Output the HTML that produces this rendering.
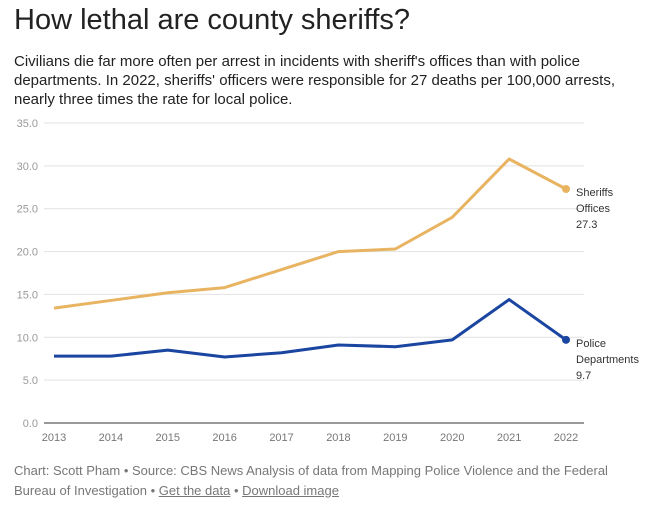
<!DOCTYPE html>
<html><head><meta charset="utf-8"><style>
body{margin:0;background:#fff;font-family:"Liberation Sans",sans-serif;width:669px;height:508px;overflow:hidden}
h1{position:absolute;left:14px;top:4px;margin:0;font-size:29px;font-weight:400;color:#222}
p.sub{position:absolute;left:14px;top:52px;margin:0;width:642px;font-size:15px;line-height:19px;color:#222}
.foot{position:absolute;left:14px;top:461px;width:615px;font-size:13px;line-height:20px;color:#777}
.foot a{color:#777}
</style></head><body>
<h1>How lethal are county sheriffs?</h1>
<p class="sub">Civilians die far more often per arrest in incidents with sheriff's offices than with police departments. In 2022, sheriffs' officers were responsible for 27 deaths per 100,000 arrests, nearly three times the rate for local police.</p>
<svg id="c" width="669" height="508" style="position:absolute;left:0;top:0"></svg>
<div class="foot">Chart: Scott Pham • Source: CBS News Analysis of data from Mapping Police Violence and the Federal Bureau of Investigation • <a href="#">Get the data</a> • <a href="#">Download image</a></div>
<script>
const years=[2013,2014,2015,2016,2017,2018,2019,2020,2021,2022];
const sheriffs=[13.4,14.3,15.2,15.8,17.9,20.0,20.3,24.0,30.8,27.3];
const police=[7.8,7.8,8.5,7.7,8.2,9.1,8.9,9.7,14.4,9.7];
const yTicks=[0,5,10,15,20,25,30,35];
const svg=document.getElementById('c');
const NS='http://www.w3.org/2000/svg';
const x=i=>54+i*(566-54)/(years.length-1);
const y=v=>423-v*(300/35);
function mk(t,a,txt){const e=document.createElementNS(NS,t);for(const k in a)e.setAttribute(k,a[k]);if(txt!=null)e.textContent=txt;svg.appendChild(e);return e;}
yTicks.forEach(t=>{
 const g=mk('line',{x1:44,x2:584,y1:y(t),y2:y(t),stroke:t===0?'#333':'#e2e2e2','stroke-width':1});
 
 
 const l=mk('text',{x:38,y:y(t)+4,'text-anchor':'end','font-size':11,fill:'#999','font-family':'Liberation Sans'},t.toFixed(1));
 
 
});
years.forEach((yr,i)=>{
 const l=mk('text',{x:x(i),y:441,'text-anchor':'middle','font-size':11,fill:'#777','font-family':'Liberation Sans'},yr);
 
 
});
function series(vals,color,name,labels){
 const p=mk('polyline',{points:vals.map((v,i)=>x(i)+','+y(v)).join(' '),fill:'none',stroke:color,'stroke-width':3,'stroke-linejoin':'round'});
 
 
 const n=vals.length-1;
 const d=mk('circle',{cx:x(n),cy:y(vals[n]),r:4,fill:color});
 
 
 const t=mk('text',{x:576,y:y(vals[n])+7,'font-size':11,fill:'#333','font-family':'Liberation Sans'});
 
 
 labels.concat([vals[n].toFixed(1)]).forEach((s,k)=>{const ts=document.createElementNS(NS,'tspan');ts.setAttribute('x',576);ts.setAttribute('dy',k?16:0);ts.textContent=s;t.appendChild(ts);});
}
series(sheriffs,'#e8b462','sheriffs',['Sheriffs','Offices']);
series(police,'#1a45a0','police',['Police','Departments']);
</script>
</body></html>
